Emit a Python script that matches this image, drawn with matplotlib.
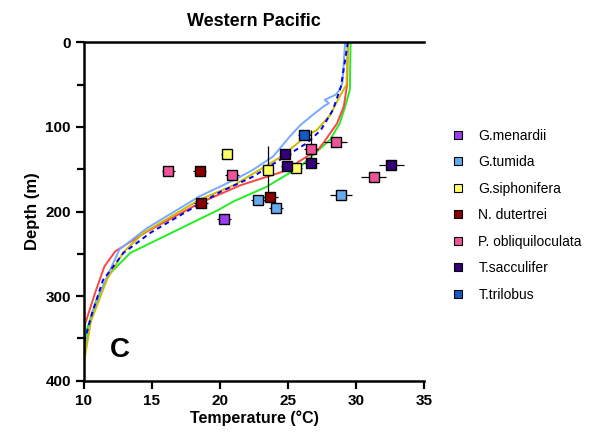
import matplotlib
matplotlib.use("Agg")
import matplotlib.pyplot as plt
from matplotlib.lines import Line2D

plt.rcParams['font.family'] = ['Liberation Sans', 'DejaVu Sans']

# ---- temperature profiles (Temperature degC, Depth m) ----
green_D = [0, 56, 76, 96, 115, 147, 171, 188, 198, 249, 275, 305, 340, 364]
green_T = [29.6, 29.55, 29.2, 28.8, 28.1, 25.9, 23.4, 21.0, 19.9, 13.4, 11.8, 10.9, 10.2, 10.0]

red_D = [0, 50, 76, 96, 119, 127, 153, 169, 190, 224, 247, 265, 297, 332, 342]
red_T = [29.4, 29.35, 29.1, 28.6, 27.6, 27.2, 24.6, 21.5, 18.5, 14.6, 12.3, 11.5, 10.8, 10.1, 10.0]

lblue_D = [0, 48, 56, 62, 68, 72, 76, 86, 98, 112, 135, 151, 163, 182, 220, 245, 277, 320, 373]
lblue_T = [29.2, 29.0, 28.8, 28.5, 27.7, 28.0, 27.6, 26.8, 25.9, 25.1, 23.9, 22.4, 21.0, 18.5, 14.6, 12.6, 11.7, 10.6, 10.0]

yellow_D = [0, 50, 64, 86, 104, 110, 134, 148, 169, 186, 225, 248, 280, 330, 378]
yellow_T = [29.4, 29.3, 28.8, 28.1, 27.1, 26.4, 24.6, 23.2, 21.0, 18.5, 14.4, 12.9, 11.7, 10.5, 10.0]

bdash_D = [0, 52, 80, 104, 119, 139, 159, 177, 225, 249, 281, 320, 355]
bdash_T = [29.4, 28.9, 28.3, 27.4, 26.4, 24.4, 22.4, 20.0, 14.9, 12.9, 11.4, 10.6, 10.0]

# ---- species data ----
species = ["G.menardii", "G.tumida", "G.siphonifera", "N. dutertrei",
           "P. obliquiloculata", "T.sacculifer", "T.trilobus"]
sp_colors = ["#9a3ff0", "#66aaee", "#ffff66", "#880000", "#ee5599", "#330077", "#1558cc"]

menardii_T = [20.3]; menardii_D = [209]; menardii_xe = [0.5]; menardii_ye = [0]
tumida_T = [22.8, 24.1, 28.9]; tumida_D = [186, 196, 180]; tumida_xe = [0.5, 0.5, 0.8]; tumida_ye = [0, 0, 0]
siph_T = [20.5, 23.5, 25.6]; siph_D = [132, 151, 149]; siph_xe = [0.4, 0.4, 0.4]; siph_ye = [0, 28, 0]
dut_T = [18.5, 23.7, 18.6]; dut_D = [152, 183, 190]; dut_xe = [0.5, 0.55, 0.5]; dut_ye = [0, 0, 0]
obl_T = [16.2, 20.9, 26.7, 28.5, 31.3]; obl_D = [152, 157, 126, 118, 159]
obl_xe = [0.5, 0.5, 0.5, 0.85, 0.9]; obl_ye = [0, 0, 22, 0, 0]
sac_T = [24.8, 24.9, 26.7, 32.6]; sac_D = [132, 146, 143, 145]; sac_xe = [0.4, 0.4, 0.6, 0.9]; sac_ye = [0, 0, 0, 0]
tri_T = [26.2]; tri_D = [110]; tri_xe = [0.5]; tri_ye = [0]

groups = [
    (menardii_T, menardii_D, menardii_xe, menardii_ye),
    (tumida_T, tumida_D, tumida_xe, tumida_ye),
    (siph_T, siph_D, siph_xe, siph_ye),
    (dut_T, dut_D, dut_xe, dut_ye),
    (obl_T, obl_D, obl_xe, obl_ye),
    (sac_T, sac_D, sac_xe, sac_ye),
    (tri_T, tri_D, tri_xe, tri_ye),
]

fig = plt.figure(figsize=(6.04, 4.47), dpi=100)
ax = fig.add_axes([84/604, 1-380.7/447, 340/604, (380.7-42.3)/447])

lw = 1.4
ax.plot(green_T, green_D, color="#22ee22", lw=lw, zorder=2)
ax.plot(red_T, red_D, color="#ff4444", lw=lw, zorder=2)
ax.plot(lblue_T, lblue_D, color="#77aaff", lw=lw, zorder=2)
ax.plot(yellow_T, yellow_D, color="#ccbb00", lw=lw, zorder=2)
ax.plot(bdash_T, bdash_D, color="#0000ee", lw=lw, ls=(0, (2.5, 2)), zorder=2)

for (T, D, xe, ye), c in zip(groups, sp_colors):
    ax.errorbar(T, D, xerr=xe, yerr=ye, fmt='none', ecolor='black', elinewidth=0.9,
                capsize=0, zorder=3)
    ax.plot(T, D, 's', ms=7.2, mfc=c, mec='black', mew=1.0, ls='none', zorder=4)

ax.set_xlim(10, 35)
ax.set_ylim(400, 0)
ax.set_xticks([10, 15, 20, 25, 30, 35])
ax.set_yticks([0, 100, 200, 300, 400])
ax.set_yticks([50, 150, 250, 350], minor=True)
for s in ['left', 'bottom', 'top']:
    ax.spines[s].set_linewidth(1.8)
ax.spines['right'].set_visible(False)
ax.tick_params(axis='both', which='major', direction='out', length=6, width=1.6,
               labelsize=11)
ax.tick_params(axis='y', which='minor', direction='out', length=5, width=1.6)
ax.tick_params(axis='x', top=False)
for lab in ax.get_xticklabels() + ax.get_yticklabels():
    lab.set_fontweight('bold')

ax.set_xlabel("Temperature (°C)", fontsize=11.5, fontweight='bold', labelpad=2)
ax.set_ylabel("Depth (m)", fontsize=12, fontweight='bold', labelpad=4)
fig.text(254/604, 1-22/447, "Western Pacific", ha='center', va='center',
         fontsize=13, fontweight='bold')
ax.text(12.65, 364, "C", ha='center', va='center', fontsize=20, fontweight='bold')

handles = [Line2D([], [], marker='s', ls='none', ms=6, mfc=c, mec='black', mew=0.8)
           for c in sp_colors]
fig.legend(handles, species, loc='upper left', bbox_to_anchor=(445/604, 1-123/447),
           frameon=False, fontsize=10, labelspacing=0.9, handletextpad=1.0,
           handlelength=1.0, borderaxespad=0)

fig.savefig("out.png", dpi=100)
